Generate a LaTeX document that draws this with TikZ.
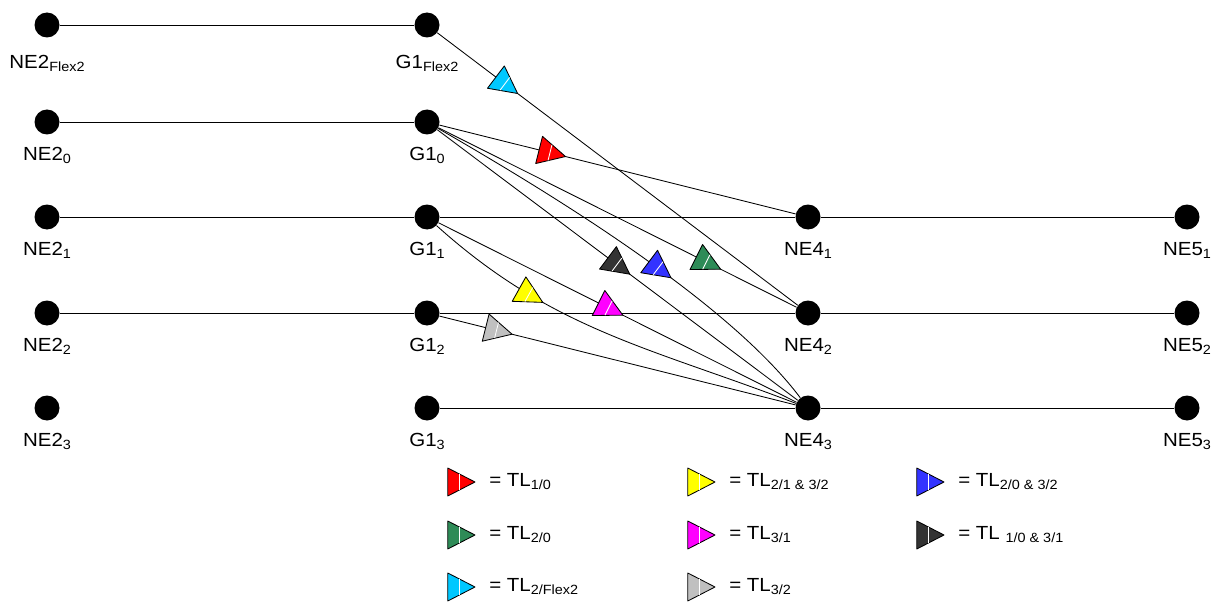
\documentclass[tikz,border=0pt]{standalone}
\usepackage{fontspec}
\setmainfont{Liberation Sans}[FakeStretch=1.08]
\usetikzlibrary{decorations.markings}
\definecolor{tlred}{RGB}{255,0,0}
\definecolor{tlgreen}{RGB}{46,139,87}
\definecolor{tlcyan}{RGB}{0,200,255}
\definecolor{tlyellow}{RGB}{255,255,0}
\definecolor{tlmagenta}{RGB}{255,0,255}
\definecolor{tlgray}{RGB}{192,192,192}
\definecolor{tlblue}{RGB}{51,51,255}
\definecolor{tldark}{RGB}{51,51,51}
\newcommand{\idx}[1]{\raisebox{-2.5pt}{\fontsize{9.5}{10}\selectfont #1}}
\newcommand{\tlmark}[1]{%
\filldraw[fill=#1,draw=black,line width=0.6pt,line join=round] (0,0) -- (-0.68,0.35) -- (-0.68,-0.35) -- cycle;
\draw[white,line width=0.6pt] (-0.40,0.2) -- (-0.40,-0.2);}
\tikzset{
dot/.style={circle,fill=black,inner sep=0pt,minimum size=0.625cm},
lbl/.style={font=\fontsize{13.5}{15}\selectfont,inner sep=0pt,label distance=0.3cm},
flexlbl/.style={lbl,label distance=0.425cm},
link/.style={line width=0.6pt,draw=black},
tl/.style 2 args={link,postaction={decorate,decoration={markings,mark=at position #1 with {\tlmark{#2}}}}},
legtxt/.style={font=\fontsize{13.5}{15}\selectfont,inner sep=0pt,anchor=base west},
pics/tlkey/.style={code={\tlmark{#1}}},
}

\begin{document}
\begin{tikzpicture}
\useasboundingbox (0,0) rectangle (30.325,15.025);

\node[dot,label={[flexlbl]below:NE2\idx{Flex2}}] (ne2f) at (1.175,14.4) {};
\node[dot,label={[lbl]below:NE2\idx{0}}] (ne20) at (1.175,11.975) {};
\node[dot,label={[lbl]below:NE2\idx{1}}] (ne21) at (1.175,9.6) {};
\node[dot,label={[lbl]below:NE2\idx{2}}] (ne22) at (1.175,7.2) {};
\node[dot,label={[lbl]below:NE2\idx{3}}] (ne23) at (1.175,4.825) {};

\node[dot,label={[flexlbl]below:G1\idx{Flex2}}] (g1f) at (10.675,14.4) {};
\node[dot,label={[lbl]below:G1\idx{0}}] (g10) at (10.675,11.975) {};
\node[dot,label={[lbl]below:G1\idx{1}}] (g11) at (10.675,9.6) {};
\node[dot,label={[lbl]below:G1\idx{2}}] (g12) at (10.675,7.2) {};
\node[dot,label={[lbl]below:G1\idx{3}}] (g13) at (10.675,4.825) {};

\node[dot,label={[lbl]below:NE4\idx{1}}] (ne41) at (20.2,9.6) {};
\node[dot,label={[lbl]below:NE4\idx{2}}] (ne42) at (20.2,7.2) {};
\node[dot,label={[lbl]below:NE4\idx{3}}] (ne43) at (20.2,4.825) {};

\node[dot,label={[lbl]below:NE5\idx{1}}] (ne51) at (29.675,9.6) {};
\node[dot,label={[lbl]below:NE5\idx{2}}] (ne52) at (29.675,7.2) {};
\node[dot,label={[lbl]below:NE5\idx{3}}] (ne53) at (29.675,4.825) {};

\draw[link] (ne2f) -- (g1f);
\draw[link] (ne20) -- (g10);
\draw[link] (ne21) -- (g11);
\draw[link] (g11) -- (ne41);
\draw[link] (ne41) -- (ne51);
\draw[link] (ne22) -- (g12);
\draw[link] (g12) -- (ne42);
\draw[link] (ne42) -- (ne52);
\draw[link] (g13) -- (ne43);
\draw[link] (ne43) -- (ne53);

\draw[tl={0.223}{tlcyan}] (g1f) -- (ne42);
\draw[tl={0.354}{tlred}] (g10) -- (ne41);
\draw[tl={0.534}{tldark}] (g10) -- (ne43);
\draw[tl={0.61}{tlblue}] (g10) to[out=-30,in=127,looseness=0.7] (ne43);
\draw[tl={0.788}{tlgreen}] (g10) -- (ne42);
\draw[tl={0.325}{tlyellow}] (g11) to[out=-42,in=159] (ne43);
\draw[tl={0.515}{tlmagenta}] (g11) -- (ne43);
\draw[tl={0.204}{tlgray}] (g12) -- (ne43);

\coordinate (kred) at (11.875,2.975);
\coordinate (kgreen) at (11.875,1.65);
\coordinate (kcyan) at (11.875,0.35);
\coordinate (kyellow) at (17.875,2.975);
\coordinate (kmagenta) at (17.875,1.65);
\coordinate (kgray) at (17.875,0.35);
\coordinate (kblue) at (23.6,2.975);
\coordinate (kdark) at (23.6,1.65);

\pic at (kred) {tlkey=tlred};
\pic at (kgreen) {tlkey=tlgreen};
\pic at (kcyan) {tlkey=tlcyan};
\pic at (kyellow) {tlkey=tlyellow};
\pic at (kmagenta) {tlkey=tlmagenta};
\pic at (kgray) {tlkey=tlgray};
\pic at (kblue) {tlkey=tlblue};
\pic at (kdark) {tlkey=tldark};

\node[legtxt] (tred) at ([xshift=0.35cm,yshift=-0.1cm]kred) {= TL\idx{1/0}};
\node[legtxt] (tgreen) at ([xshift=0.35cm,yshift=-0.1cm]kgreen) {= TL\idx{2/0}};
\node[legtxt] (tcyan) at ([xshift=0.35cm,yshift=-0.1cm]kcyan) {= TL\idx{2/Flex2}};
\node[legtxt] (tyellow) at ([xshift=0.35cm,yshift=-0.1cm]kyellow) {= TL\idx{2/1 \& 3/2}};
\node[legtxt] (tmagenta) at ([xshift=0.35cm,yshift=-0.1cm]kmagenta) {= TL\idx{3/1}};
\node[legtxt] (tgray) at ([xshift=0.35cm,yshift=-0.1cm]kgray) {= TL\idx{3/2}};
\node[legtxt] (tblue) at ([xshift=0.35cm,yshift=-0.1cm]kblue) {= TL\idx{2/0 \& 3/2}};
\node[legtxt] (tdark) at ([xshift=0.35cm,yshift=-0.1cm]kdark) {= TL \idx{1/0 \& 3/1}};
\end{tikzpicture}
\end{document}
